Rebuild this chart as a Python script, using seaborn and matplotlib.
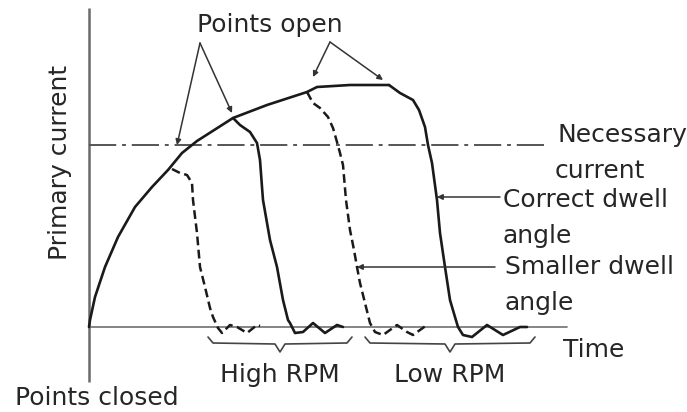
import matplotlib
matplotlib.use("Agg")
import matplotlib.pyplot as plt
import seaborn as sns

sns.set_theme(style="white")
plt.rcParams["font.family"] = ["DejaVu Sans"]

# Coil charging curve (time, primary current) while the points are closed
charge_t = [0.00, 0.01, 0.06, 0.16, 0.29, 0.46, 0.63, 0.79, 0.93, 1.08, 1.44, 1.78, 2.18, 2.28, 2.61, 2.94, 3.00]
charge_i = [0.00, 0.07, 0.30, 0.60, 0.90, 1.20, 1.40, 1.57, 1.74, 1.86, 2.09, 2.22, 2.35, 2.40, 2.42, 2.42, 2.42]

# High RPM, smaller dwell angle (dashed)
hi_small_t = [0.83, 0.91, 0.98, 1.03, 1.04, 1.08, 1.11, 1.16, 1.21, 1.24, 1.29, 1.33, 1.41, 1.48, 1.58, 1.68, 1.71]
hi_small_i = [1.58, 1.54, 1.52, 1.44, 1.27, 0.94, 0.60, 0.40, 0.19, 0.10, -0.01, -0.06, 0.02, 0.00, -0.06, 0.02, 0.01]

# High RPM, correct dwell angle (solid)
hi_correct_t = [1.44, 1.51, 1.61, 1.68, 1.71, 1.73, 1.74, 1.81, 1.88, 1.94, 1.99, 2.01, 2.06, 2.14, 2.24, 2.36, 2.48, 2.54]
hi_correct_i = [2.09, 2.02, 1.95, 1.84, 1.67, 1.40, 1.27, 0.87, 0.60, 0.27, 0.07, 0.04, -0.06, -0.05, 0.04, -0.06, 0.02, 0.00]

# Low RPM, smaller dwell angle (dashed)
lo_small_t = [2.18, 2.24, 2.31, 2.39, 2.44, 2.48, 2.51, 2.54, 2.57, 2.61, 2.65, 2.68, 2.71, 2.76, 2.81, 2.86, 2.94, 3.08, 3.18, 3.24, 3.38, 3.39]
lo_small_i = [2.35, 2.24, 2.19, 2.10, 1.99, 1.85, 1.74, 1.62, 1.27, 0.97, 0.77, 0.60, 0.44, 0.24, 0.04, -0.05, -0.08, 0.02, -0.05, -0.08, 0.02, 0.01]

# Low RPM, correct dwell angle (solid)
lo_correct_t = [3.00, 3.11, 3.24, 3.30, 3.36, 3.39, 3.43, 3.48, 3.51, 3.56, 3.61, 3.66, 3.69, 3.74, 3.83, 3.98, 4.14, 4.31, 4.38]
lo_correct_i = [2.42, 2.34, 2.27, 2.17, 2.00, 1.82, 1.64, 1.27, 0.94, 0.60, 0.27, 0.10, 0.00, -0.08, -0.10, 0.02, -0.08, 0.00, 0.00]

necessary_current = 1.82
time_axis_end = 4.78
necessary_end = 4.56
current_axis = (-0.55, 3.19)

# Speed ranges marked under the time axis
rpm_labels = ["High RPM", "Low RPM"]
rpm_ranges = [(1.21, 2.61), (2.78, 4.44)]

fig = plt.figure(figsize=(6.87, 4.12), dpi=100)
ax = fig.add_axes([0, 0, 1, 1])
ax.set_xlim(-0.89, 5.98)
ax.set_ylim(-0.85, 3.27)
ax.axis("off")

ink = "#1a1a1a"
txt = "#262626"
fs = 18

# axes
ax.plot([0, 0], current_axis, color="#6a6a6a", lw=1.8, solid_capstyle="butt")
ax.plot([0, time_axis_end], [0, 0], color="#707070", lw=1.2)
ax.plot([0, necessary_end], [necessary_current] * 2, color="#555555", lw=1.4,
        ls=(0, (14, 3, 2, 3)))

# current curves
solid_kw = dict(color=ink, lw=1.9, sort=False, estimator=None, ax=ax)
dash_kw = dict(color=ink, lw=1.8, sort=False, estimator=None, ax=ax, ls=(0, (3.5, 1.8)))
sns.lineplot(x=charge_t, y=charge_i, **solid_kw)
sns.lineplot(x=hi_correct_t, y=hi_correct_i, **solid_kw)
sns.lineplot(x=lo_correct_t, y=lo_correct_i, **solid_kw)
sns.lineplot(x=hi_small_t, y=hi_small_i, **dash_kw)
sns.lineplot(x=lo_small_t, y=lo_small_i, **dash_kw)
for ln in ax.lines:
    ln.set_solid_joinstyle("round")

# braces under the time axis
for (a, b), lab in zip(rpm_ranges, rpm_labels):
    m = (a + b) / 2
    bx = [a - 0.02, a + 0.03, m - 0.05, m, m + 0.05, b - 0.03, b + 0.02]
    by = [-0.10, -0.16, -0.17, -0.25, -0.17, -0.16, -0.10]
    ax.plot(bx, by, color="#444444", lw=1.2)
    ax.text(m, -0.48, lab, ha="center", va="center", fontsize=fs, color=txt)

# "Points open" leaders
arrow = dict(arrowstyle="-|>", color="#333333", lw=1.1, mutation_scale=8, shrinkA=0, shrinkB=0)
for apex, ends in [((1.11, 2.84), [(0.88, 1.82), (1.43, 2.14)]),
                   ((2.41, 2.85), [(2.24, 2.50), (2.94, 2.47)])]:
    for e in ends:
        ax.annotate("", xy=e, xytext=apex, arrowprops=arrow)
ax.text(1.81, 3.02, "Points open", ha="center", va="center", fontsize=fs, color=txt)

# dwell leaders
ax.annotate("", xy=(3.48, 1.30), xytext=(4.11, 1.30), arrowprops=arrow)
ax.annotate("", xy=(2.68, 0.60), xytext=(4.06, 0.60), arrowprops=arrow)

ax.text(4.69, 1.92, "Necessary", ha="left", va="center", fontsize=fs, color=txt)
ax.text(4.66, 1.56, "current", ha="left", va="center", fontsize=fs, color=txt)
ax.text(4.14, 1.27, "Correct dwell", ha="left", va="center", fontsize=fs, color=txt)
ax.text(4.14, 0.91, "angle", ha="left", va="center", fontsize=fs, color=txt)
ax.text(4.16, 0.60, "Smaller dwell", ha="left", va="center", fontsize=fs, color=txt)
ax.text(4.16, 0.24, "angle", ha="left", va="center", fontsize=fs, color=txt)
ax.text(4.74, -0.23, "Time", ha="left", va="center", fontsize=fs, color=txt)
ax.text(0.08, -0.71, "Points closed", ha="center", va="center", fontsize=fs, color=txt)
ax.text(-0.29, 1.65, "Primary current", ha="center", va="center", rotation=90,
        fontsize=fs, color=txt)

fig.savefig("out.png", dpi=100, facecolor="white")
